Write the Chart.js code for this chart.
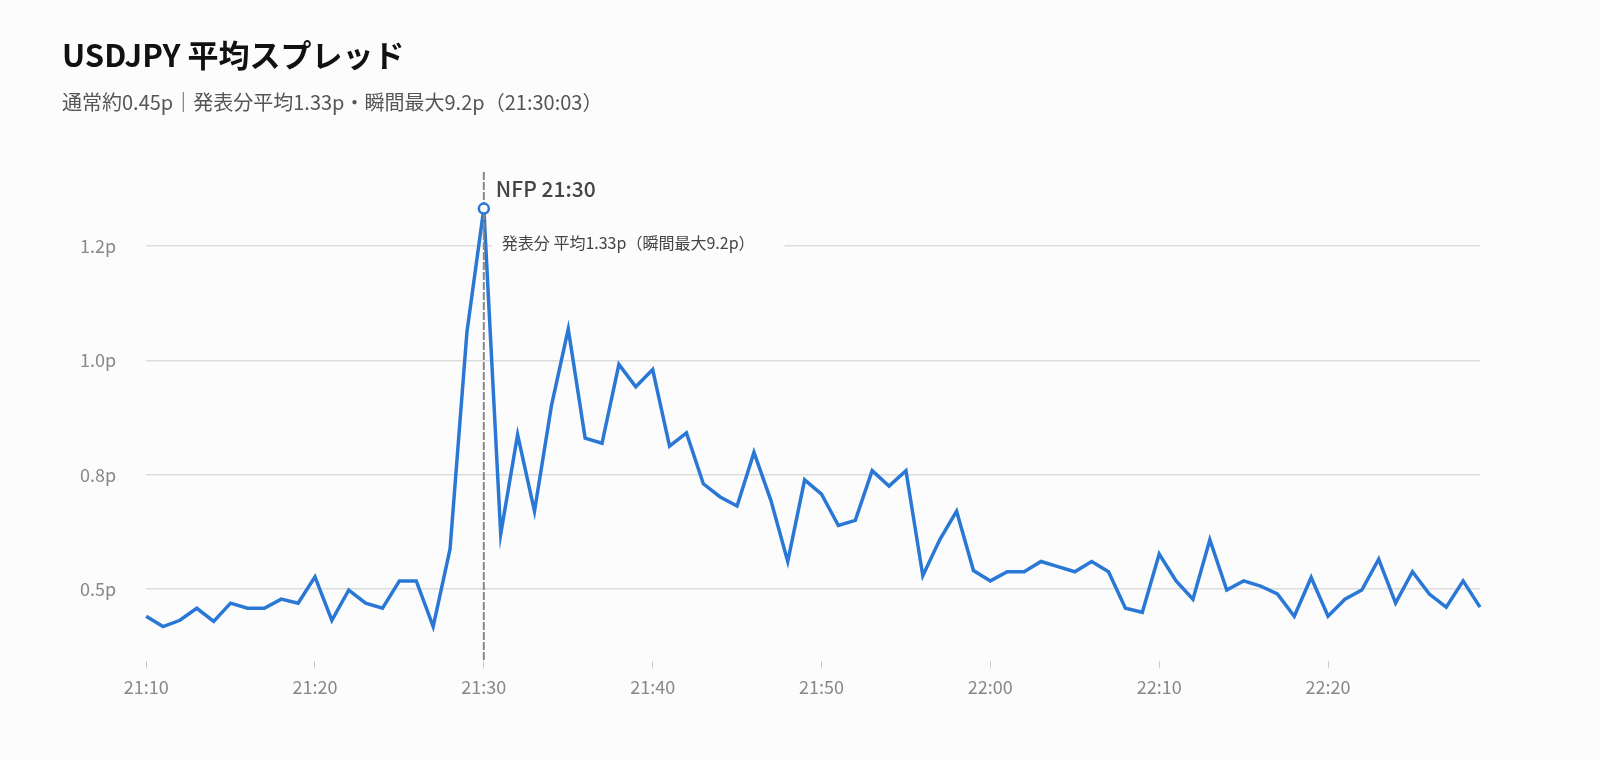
<!DOCTYPE html>
<html><head><meta charset="utf-8">
<script src="https://cdn.jsdelivr.net/npm/chart.js@4/dist/chart.umd.min.js"></script>
<style>html,body{margin:0;background:#fcfcfc;}#w{width:1600px;height:760px;}</style>
</head><body><div id="w"><canvas id="c"></canvas></div>
<script>
const FONT = '"Noto Sans CJK JP","Noto Sans",sans-serif';
const startHour = 21, startMin = 10;
const spread = [0.552,0.534,0.545,0.566,0.543,0.575,0.566,0.566,0.582,0.575,
0.621,0.545,0.598,0.575,0.566,0.614,0.614,0.534,0.670,1.050,
1.266,0.696,0.870,0.736,0.920,1.055,0.864,0.855,0.993,0.954,
0.984,0.850,0.873,0.784,0.761,0.745,0.839,0.755,0.648,0.791,
0.766,0.711,0.720,0.807,0.780,0.807,0.623,0.686,0.736,0.632,
0.614,0.630,0.630,0.648,0.639,0.630,0.648,0.630,0.566,0.559,
0.661,0.614,0.582,0.686,0.598,0.614,0.605,0.591,0.552,0.620,
0.552,0.582,0.598,0.652,0.575,0.630,0.591,0.568,0.614,0.568];
const labels = spread.map((_, i) => {
  const t = startHour*60 + startMin + i;
  return Math.floor(t/60) + ':' + String(t%60).padStart(2,'0');
});
const tickValues = [0.6, 0.8, 1.0, 1.2];
const tickLabels = ['0.5p', '0.8p', '1.0p', '1.2p'];
const eventLabel = '21:30';
const title = 'USDJPY 平均スプレッド';
const subtitle = '通常約0.45p｜発表分平均1.33p・瞬間最大9.2p（21:30:03）';
const eventTitle = 'NFP 21:30';
const eventNote = '発表分 平均1.33p（瞬間最大9.2p）';

const overlay = {
  id: 'overlay',
  afterDraw(chart) {
    const {ctx, chartArea: a, scales: {x, y}} = chart;
    const idx = labels.indexOf(eventLabel);
    const px = x.getPixelForValue(idx);
    const py = y.getPixelForValue(spread[idx]);
    ctx.save();
    ctx.font = '16px ' + FONT;
    const w = ctx.measureText(eventNote).width;
    ctx.fillStyle = '#fcfcfc';
    ctx.fillRect(px + 8, y.getPixelForValue(1.2) - 14, w + 40, 28);
    ctx.fillStyle = '#444';
    ctx.textBaseline = 'middle';
    ctx.fillText(eventNote, px + 18, y.getPixelForValue(1.2) - 3);
    ctx.strokeStyle = '#888'; ctx.lineWidth = 2; ctx.setLineDash([8, 2]);
    ctx.beginPath(); ctx.moveTo(px, a.top); ctx.lineTo(px, a.bottom); ctx.stroke();
    ctx.setLineDash([]);
    ctx.strokeStyle = '#2a78d6'; ctx.lineWidth = 2.5; ctx.fillStyle = '#fcfcfc';
    ctx.beginPath(); ctx.arc(px, py, 5, 0, Math.PI*2); ctx.fill(); ctx.stroke();
    ctx.font = '500 21px ' + FONT; ctx.fillStyle = '#444';
    ctx.fillText(eventTitle, px + 12, a.top + 17);
    ctx.textBaseline = 'alphabetic';
    ctx.font = 'bold 31px ' + FONT; ctx.fillStyle = '#111';
    ctx.fillText(title, 62, 67);
    ctx.font = '20px ' + FONT; ctx.fillStyle = '#555';
    ctx.fillText(subtitle, 62, 110);
    ctx.restore();
  }
};

new Chart(document.getElementById('c'), {
  type: 'line',
  data: { labels, datasets: [{ data: spread, borderColor: '#2a78d6', borderWidth: 3.5, pointRadius: 0, tension: 0, fill: false }] },
  options: {
    responsive: true, maintainAspectRatio: false, animation: false,
    layout: { padding: { top: 172, left: 50, right: 120, bottom: 54 } },
    plugins: { legend: { display: false }, tooltip: { enabled: false } },
    scales: {
      x: {
        grid: { display: true, drawOnChartArea: false, tickLength: 7, color: '#ccc' },
        border: { display: false },
        ticks: { autoSkip: false, maxRotation: 0, color: '#888', font: { size: 18, family: FONT }, padding: 8,
          callback: (v, i) => (i % 10 === 0 ? labels[i] : null) }
      },
      y: {
        min: 0.473, max: 1.33,
        afterBuildTicks: s => { s.ticks = tickValues.map(v => ({ value: v })); },
        grid: { color: '#dcdcdc', lineWidth: 1.5, drawTicks: false },
        border: { display: false },
        ticks: { color: '#888', font: { size: 18, family: FONT }, padding: 30,
          callback: v => tickLabels[tickValues.findIndex(t => Math.abs(t - v) < 1e-6)] }
      }
    }
  },
  plugins: [overlay]
});
</script></body></html>
